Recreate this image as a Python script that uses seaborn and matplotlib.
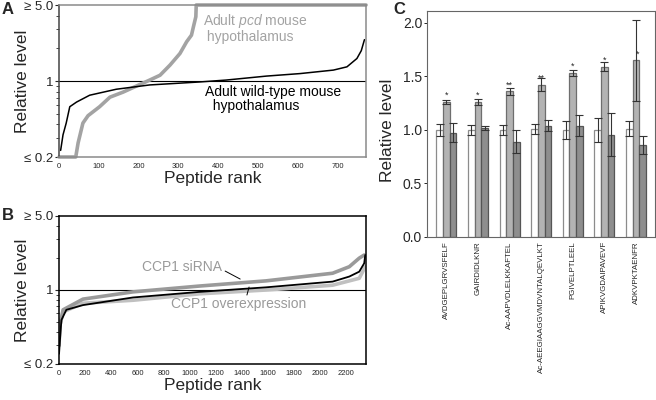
import numpy as np
import pandas as pd
import matplotlib
matplotlib.use("Agg")
import matplotlib.pyplot as plt
import seaborn as sns
from matplotlib.ticker import FixedLocator, NullFormatter

# --- Panel A: ranked peptide levels ---
wt_rank = [4, 10, 18, 27, 44, 77, 144, 228, 354, 420, 522, 606, 690, 724, 749, 760, 768]
wt_level = [0.23, 0.32, 0.41, 0.58, 0.64, 0.74, 0.84, 0.92, 0.98, 1.02, 1.11, 1.17, 1.26, 1.35, 1.61, 1.9, 2.4]
pcd_rank = [0, 42, 48, 60, 73, 102, 128, 161, 195, 228, 254, 279, 304, 321, 333, 338, 344, 345, 772]
pcd_level = [0.2, 0.2, 0.27, 0.41, 0.48, 0.58, 0.71, 0.79, 0.90, 1.02, 1.13, 1.40, 1.79, 2.30, 2.64, 3.16, 3.9, 5.0, 5.0]

# --- Panel B ---
ctl_rank = [0, 5, 18, 56, 183, 566, 1075, 1585, 2094, 2222, 2298, 2336, 2344]
ctl_level = [0.25, 0.31, 0.52, 0.65, 0.72, 0.85, 0.96, 1.06, 1.2, 1.34, 1.49, 1.79, 2.14]
kd_rank = [0, 5, 31, 183, 566, 1075, 1585, 2094, 2222, 2298, 2336]
kd_level = [0.3, 0.45, 0.65, 0.82, 0.96, 1.09, 1.22, 1.44, 1.66, 2.0, 2.14]
oe_rank = [0, 5, 30, 183, 566, 1075, 1585, 2094, 2298, 2344]
oe_level = [0.3, 0.45, 0.62, 0.75, 0.80, 0.92, 1.0, 1.11, 1.29, 1.66]

# --- Panel C ---
peptides = ["AVDGEPLGRVSFELF", "GAIRDIDLKNR", "Ac-AAPVDLELKKAFTEL",
            "Ac-AEEGIAAGGVMDVNTALQEVLKT", "PGIVELPTLEEL", "APIKVGDAIPAVEVF", "ADKVPKTAENFR"]
conditions = ["Control", "CCP1 siRNA", "CCP1 overexpression"]
ctrl_mean = [1.0, 1.0, 1.0, 1.01, 1.0, 1.0, 1.01]
ctrl_err = [0.055, 0.045, 0.045, 0.045, 0.087, 0.11, 0.07]
kd_mean = [1.26, 1.26, 1.36, 1.42, 1.53, 1.59, 1.65]
kd_err = [0.015, 0.025, 0.035, 0.06, 0.03, 0.04, 0.38]
oe_mean = [0.975, 1.02, 0.89, 1.04, 1.04, 0.955, 0.86]
oe_err = [0.085, 0.02, 0.105, 0.053, 0.10, 0.2, 0.085]
stars = ["*", "*", "**", "**", "*", "*", "*"]

sns.set_theme(style="ticks")
plt.rcParams['font.family'] = ['Liberation Sans', 'DejaVu Sans']
plt.rcParams['mathtext.fontset'] = 'custom'
plt.rcParams['mathtext.rm'] = 'Liberation Sans'
plt.rcParams['mathtext.it'] = 'Liberation Sans:italic'

fig = plt.figure(figsize=(6.56, 4.0), dpi=100)
axA = fig.add_axes([0.090, 0.6075, 0.468, 0.38])
axB = fig.add_axes([0.090, 0.09, 0.468, 0.37])
axC = fig.add_axes([0.651, 0.4075, 0.347, 0.565])


def rank_axis(ax, xmax, xticks):
    ax.set_yscale('log')
    ax.set_ylim(0.2, 5)
    ax.set_xlim(0, xmax)
    ax.yaxis.set_major_locator(FixedLocator([0.2, 1, 5]))
    ax.yaxis.set_minor_locator(FixedLocator([0.3, 0.4, 0.5, 0.6, 0.7, 0.8, 0.9, 2, 3, 4]))
    ax.yaxis.set_minor_formatter(NullFormatter())
    ax.set_yticklabels(["≤ 0.2", "1", "≥ 5.0"], fontsize=9.5)
    ax.set_xticks(xticks)
    ax.set_xticklabels([str(t) for t in xticks], fontsize=5.5)
    ax.tick_params(axis='x', length=0, pad=4)
    ax.tick_params(axis='y', which='major', length=3, width=0.8, pad=1)
    ax.tick_params(axis='y', which='minor', length=2, width=0.6)
    ax.axhline(1, color='black', lw=0.8, zorder=1)
    ax.set_ylabel("Relative level", fontsize=12.5)
    ax.yaxis.set_label_coords(-0.094, 0.5)
    ax.set_xlabel("Peptide rank", fontsize=12.5, labelpad=1)


# Panel A
sns.lineplot(x=pcd_rank, y=pcd_level, ax=axA, color='#a3a3a3', lw=2.6,
             estimator=None, sort=False)
axA.lines[-1].set_clip_on(False)
sns.lineplot(x=wt_rank, y=wt_level, ax=axA, color='black', lw=1.1,
             estimator=None, sort=False)
rank_axis(axA, 772, list(range(0, 800, 100)))
for s in axA.spines.values():
    s.set_color('#8a8a8a')
    s.set_linewidth(1.1)
axA.spines['left'].set_color('#444444')

axA.text(0.469, 0.955, "Adult $\\mathit{pcd}$ mouse\n hypothalamus", transform=axA.transAxes,
         color='#a3a3a3', fontsize=10, ha='left', va='top', linespacing=1.0)
axA.text(0.476, 0.475, "Adult wild-type mouse\n  hypothalamus", transform=axA.transAxes,
         color='black', fontsize=10, ha='left', va='top', linespacing=1.0)

# Panel B
sns.lineplot(x=oe_rank, y=oe_level, ax=axB, color='#c0c0c0', lw=2.6,
             estimator=None, sort=False)
sns.lineplot(x=kd_rank, y=kd_level, ax=axB, color='#9a9a9a', lw=2.6,
             estimator=None, sort=False)
sns.lineplot(x=ctl_rank, y=ctl_level, ax=axB, color='black', lw=1.3,
             estimator=None, sort=False)
rank_axis(axB, 2350, list(range(0, 2400, 200)))
for s in axB.spines.values():
    s.set_color('black')
    s.set_linewidth(1.1)

axB.text(0.531, 0.655, "CCP1 siRNA", transform=axB.transAxes,
         color='#9a9a9a', fontsize=10, ha='right', va='center')
axB.plot([0.541, 0.590], [0.628, 0.574], transform=axB.transAxes, color='black', lw=0.7)
axB.text(0.585, 0.405, "CCP1 overexpression", transform=axB.transAxes,
         color='#9a9a9a', fontsize=10, ha='center', va='center')
axB.plot([0.619, 0.612], [0.520, 0.466], transform=axB.transAxes, color='black', lw=0.7)

# Panel C
df = pd.DataFrame({
    "peptide": peptides * 3,
    "condition": np.repeat(conditions, len(peptides)),
    "level": ctrl_mean + kd_mean + oe_mean,
})
sns.barplot(data=df, x="peptide", y="level", hue="condition", ax=axC,
            palette=['white', '#b3b3b3', '#8e8e8e'], width=0.63, gap=0,
            errorbar=None, legend=False, linewidth=0.9)
edge_cols = ['#8c8c8c', '#6e6e6e', '#555555']
for cont, means, errs, ec in zip(axC.containers, [ctrl_mean, kd_mean, oe_mean],
                                 [ctrl_err, kd_err, oe_err], edge_cols):
    xs = []
    for bar in cont:
        bar.set_edgecolor(ec)
        xs.append(bar.get_x() + bar.get_width() / 2)
    axC.errorbar(xs, means, yerr=errs, fmt='none', ecolor='#333333',
                 elinewidth=0.8, capsize=2.6, capthick=0.8)
    if means is kd_mean:
        for x, m, e, st in zip(xs, means, errs, stars):
            dx = 0.04 if e > 0.1 else 0
            axC.text(x + dx, m + 0.06, st, ha='center', va='center', fontsize=6.5)

axC.set_xlim(-0.61, 6.59)
axC.set_ylim(0, 2.11)
axC.set_yticks([0.0, 0.5, 1.0, 1.5, 2.0])
axC.set_yticklabels(["0.0", "0.5", "1.0", "1.5", "2.0"], fontsize=10)
axC.set_xticks(range(len(peptides)))
axC.set_xticklabels(peptides, rotation=90, va='top', ha='center')
axC.tick_params(axis='x', length=0, pad=3, labelsize=5.65)
axC.tick_params(axis='y', length=2.5, width=0.7, pad=1)
axC.set_xlabel("")
axC.set_ylabel("Relative level", fontsize=12.5)
axC.yaxis.set_label_coords(-0.14, 0.473)
for s in axC.spines.values():
    s.set_color('#666666')
    s.set_linewidth(0.8)

fig.text(0.003, 0.975, "A", fontsize=12, fontweight='bold', va='center')
fig.text(0.003, 0.462, "B", fontsize=12, fontweight='bold', va='center')
fig.text(0.599, 0.975, "C", fontsize=12, fontweight='bold', va='center')

fig.savefig("out.png", dpi=100)
